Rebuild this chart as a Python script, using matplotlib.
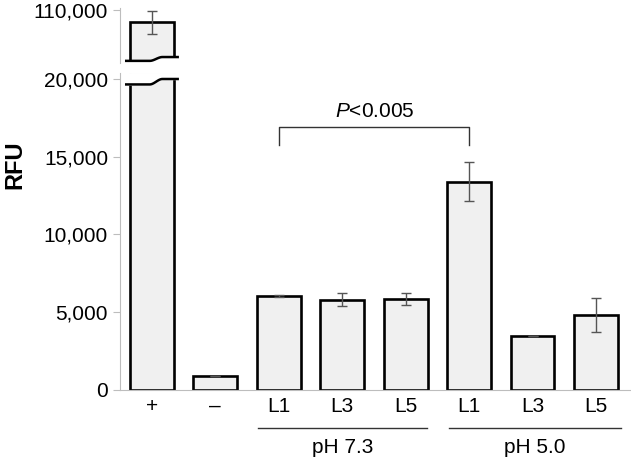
import numpy as np
import matplotlib
matplotlib.use("Agg")
import matplotlib.pyplot as plt
import matplotlib.transforms as mtransforms

plt.rcParams['font.family'] = ['Liberation Sans', 'DejaVu Sans']
plt.rcParams['mathtext.fontset'] = 'custom'
plt.rcParams['mathtext.it'] = 'Liberation Sans:italic'
plt.rcParams['mathtext.rm'] = 'Liberation Sans'

labels = ["+", "–", "L1", "L3", "L5", "L1", "L3", "L5"]
values = [105000, 900, 6050, 5800, 5850, 13400, 3500, 4800]
errors = [4800, 0, 80, 420, 400, 1250, 0, 1100]
groups = ["pH 7.3", "pH 5.0"]
group_span = [(1.67, 4.34), (4.68, 7.40)]

x = np.arange(len(labels))
face = "#f0f0f0"
spine_c = "#bdbdbd"
fs = 15

fig = plt.figure(figsize=(6.31, 4.58), dpi=100)
ax = fig.add_axes([0.190, 0.1485, 0.81, 0.6926])   # 0 - 20,000
axt = fig.add_axes([0.190, 0.8624, 0.81, 0.1201])  # 110,000 segment

for a in (ax, axt):
    a.bar(x, values, width=0.69, color=face, edgecolor="black", linewidth=1.9, zorder=2)
    a.errorbar(x, values, yerr=errors, fmt="none", ecolor="#555555", elinewidth=1,
               capsize=3.5, capthick=1, zorder=3)
    a.set_xlim(-0.5, 7.55)
    for s in ("top", "right"):
        a.spines[s].set_visible(False)
    a.spines["left"].set_color(spine_c)
    a.tick_params(axis="y", colors=spine_c, length=5, labelcolor="black", labelsize=fs)

ax.set_ylim(0, 20400)
ax.set_yticks([0, 5000, 10000, 15000, 20000])
ax.set_yticklabels(["0", "5,000", "10,000", "15,000", "20,000"])
ax.spines["bottom"].set_color(spine_c)
ax.set_xticks(x)
ax.set_xticklabels(labels, fontsize=fs)
ax.tick_params(axis="x", length=0, pad=5)

axt.set_ylim(88000, 111000)
axt.set_yticks([110000])
axt.set_yticklabels(["110,000"])
axt.spines["bottom"].set_visible(False)
axt.set_xticks([])

# wavy break on the "+" bar
def wave(xs, y_left, y_right):
    t = np.clip((xs + 0.03) / 0.2, 0, 1)
    return y_left + (y_right - y_left) * (3 * t ** 2 - 2 * t ** 3)

xs = np.linspace(-0.40, 0.41, 80)
wb = wave(xs, 19650, 20000)
ax.fill_between(xs, wb, 20400, color="white", zorder=4)
ax.plot(xs, wb, color="black", lw=1.8, zorder=5)
wt = wave(xs, 88900, 90500)
axt.fill_between(xs, 88000, wt, color="white", zorder=4)
axt.plot(xs, wt, color="black", lw=1.8, zorder=5)

# significance bracket
ax.plot([2, 2, 5, 5], [15750, 16900, 16900, 15750], color="#333333", lw=1, zorder=3)
ax.text(3.52, 17940, r"$P$<0.005", ha="center", va="center", fontsize=fs)

# group labels under the x axis
trans = mtransforms.blended_transform_factory(ax.transData, ax.transAxes)
for name, (x0, x1) in zip(groups, group_span):
    ax.plot([x0, x1], [-0.12, -0.12], color="#333333", lw=1, transform=trans, clip_on=False)
    ax.text((x0 + x1) / 2, -0.18, name, ha="center", va="center", fontsize=fs, transform=trans)

fig.text(0.024, 0.64, "RFU", rotation=90, ha="center", va="center", fontsize=17, fontweight="bold")

fig.savefig("out.png", dpi=100)
